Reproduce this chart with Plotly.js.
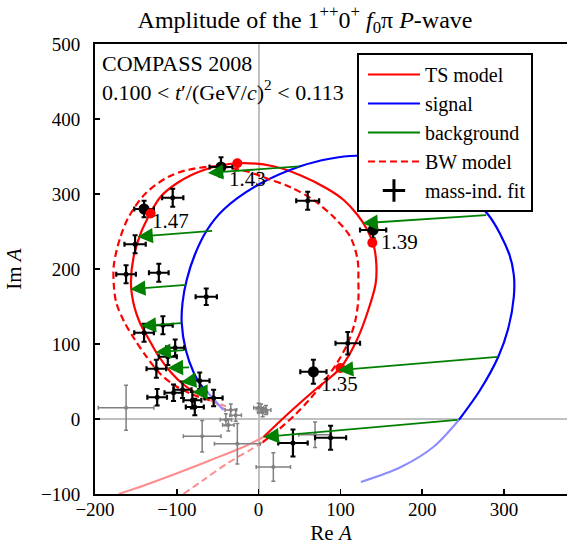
<!DOCTYPE html>
<html>
<head>
<meta charset="utf-8">
<script src="https://cdn.plot.ly/plotly-3.0.1.min.js"></script>
<style>html,body{margin:0;padding:0;overflow:hidden;background:#fff;}</style>
</head>
<body>
<div id="chart" style="width:567px;height:546px;"></div>
<script>
// ---- TS model (solid red): light = outside fit range ----
const tsLoRe = [-171, -141, -99, -59, -18, 6];
const tsLoIm = [-100, -89, -72, -55, -37, -24];
const tsRe = [6, 37, 68, 100, 120, 134, 143, 144, 141, 133, 121, 104, 84, 51, 18, -26, -67, -99, -120, -132, -144, -153, -156, -152, -145, -134, -123, -107, -92, -77];
const tsIm = [-24, 8, 38, 68, 105, 145, 180, 205, 230, 252, 272, 292, 307, 325, 337, 341, 332, 315, 296, 275, 248, 215, 179, 150, 128, 106, 85, 62, 46, 35];
const tsHiRe = [-77, -59, -40];
const tsHiIm = [35, 25, 12];

// ---- BW model (dashed red) ----
const bwLoRe = [-92, -67, -38, -10, 5];
const bwLoIm = [-100, -81, -59, -41, -31];
const bwRe = [5, 18, 43, 63, 80, 96, 109, 118, 122, 122, 121, 112, 92, 67, 39, 12, -14, -50, -87, -110, -138, -159, -170, -177, -177, -174, -164, -152, -137, -120, -100, -77, -59];
const bwIm = [-31, -20, 4, 27, 50, 75, 101, 130, 160, 181, 212, 243, 269, 292, 309, 320, 330, 337, 332, 323, 301, 269, 239, 205, 179, 155, 129, 107, 83, 60, 43, 31, 25];
const bwHiRe = [-59, -40];
const bwHiIm = [25, 17];

// ---- signal (blue) ----
const sgLoRe = [125, 174, 214, 245];
const sgLoIm = [-84, -64, -37, -1];
const sgRe = [245, 271, 293, 305, 312, 312, 306, 281, 247, 198, 155, 119, 87, 51, -1, -43, -63, -78, -88, -93, -94, -89, -79, -71, -62];
const sgIm = [-1, 39, 83, 120, 163, 192, 221, 272, 305, 332, 348, 351, 347, 337, 312, 279, 252, 219, 185, 155, 128, 92, 61, 46, 35];
const sgHiRe = [-62, -43];
const sgHiIm = [35, 12];

// ---- background arrows (tail on signal, head on TS model) ----
const bgTailRe = [245, 294, 280, 51, -55, -87, -93, -89, -83, -75, -62];
const bgTailIm = [-1, 83, 272, 337, 251, 179, 128, 92, 69, 52, 36];
const bgHeadRe = [6, 97, 127, -62, -148, -157, -144, -126, -111, -95, -81];
const bgHeadIm = [-24, 65, 261, 328, 243, 173, 124, 89, 68, 49, 36];

// ---- mass-independent fit points (black, in fit range) ----
const fitRe = [-46, -105, -140, -151, -162, -122, -64, 60, 140, 109, 67, -117, -140, -102, -111, -125, -72, -124, -104, -93, -81, -78, -55, 42, 88];
const fitIm = [336, 295, 280, 233, 193, 195, 163, 291, 252, 101, 63, 125, 115, 95, 83, 67, 51, 29, 35, 39, 25, 16, 28, -32, -25];
const fitErrRe = [14, 13, 12, 13, 12, 12, 13, 14, 16, 15, 16, 12, 12, 11, 11, 12, 12, 12, 11, 11, 11, 11, 11, 18, 19];
const fitErrIm = [13, 12, 11, 12, 12, 12, 11, 12, 11, 15, 16, 12, 12, 11, 11, 12, 11, 11, 11, 11, 11, 11, 11, 18, 16];

// ---- mass-independent fit points outside fit range (gray) ----
const outRe = [-162, -69, -26, 18, 69, -40, -34, -37, -28, 0, 9, 5, 3];
const outIm = [15, -23, -33, -64, -21, -1, 12, -8, 5, 15, 12, 9, 14];
const outErrRe = [34, 23, 28, 21, 20, 7, 7, 7, 7, 6, 6, 6, 6];
const outErrIm = [30, 21, 27, 19, 17, 8, 8, 8, 8, 6, 6, 6, 6];

// ---- marked masses ----
const massLabels = ["1.35", "1.39", "1.43", "1.47"];
const massFitRe = [67, 140, -46, -140];
const massFitIm = [63, 252, 336, 280];
const massTsRe = [100, 139, -26, -132];
const massTsIm = [68, 235, 341, 274];

const FONT = "Liberation Serif, DejaVu Serif, serif";
const RED = "#ff0000", LRED = "#ff8c8c", BLUE = "#0000ff", LBLUE = "#8c8cff", GREEN = "#008000";
const SM = 0.9;

const traces = [
  {x: tsLoRe, y: tsLoIm, mode: "lines", line: {color: LRED, width: 2, shape: "spline", smoothing: SM}, showlegend: false},
  {x: tsHiRe, y: tsHiIm, mode: "lines", line: {color: LRED, width: 2, shape: "spline", smoothing: SM}, showlegend: false},
  {x: bwLoRe, y: bwLoIm, mode: "lines", line: {color: LRED, width: 2, dash: "7px,4px", shape: "spline", smoothing: SM}, showlegend: false},
  {x: bwHiRe, y: bwHiIm, mode: "lines", line: {color: LRED, width: 2, dash: "7px,4px", shape: "spline", smoothing: SM}, showlegend: false},
  {x: sgLoRe, y: sgLoIm, mode: "lines", line: {color: LBLUE, width: 2, shape: "spline", smoothing: SM}, showlegend: false},
  {x: sgHiRe, y: sgHiIm, mode: "lines", line: {color: LBLUE, width: 2, shape: "spline", smoothing: SM}, showlegend: false},
  {x: outRe, y: outIm, mode: "markers", marker: {color: "#808080", size: 4},
   error_x: {type: "data", array: outErrRe, color: "#808080", thickness: 1.5, width: 2},
   error_y: {type: "data", array: outErrIm, color: "#808080", thickness: 1.5, width: 2},
   showlegend: false},
  {x: tsRe, y: tsIm, mode: "lines", name: "TS model", legendgroup: "a", line: {color: RED, width: 2.2, shape: "spline", smoothing: SM}},
  {x: sgRe, y: sgIm, mode: "lines", name: "signal", legendgroup: "b", line: {color: BLUE, width: 2.2, shape: "spline", smoothing: SM}},
  {x: [null], y: [null], mode: "lines", name: "background", legendgroup: "c", line: {color: GREEN, width: 2.2}},
  {x: bwRe, y: bwIm, mode: "lines", name: "BW model", legendgroup: "d", line: {color: RED, width: 2.2, dash: "7px,4px", shape: "spline", smoothing: SM}},
  {x: fitRe, y: fitIm, mode: "markers", marker: {color: "#000", size: 5},
   error_x: {type: "data", array: fitErrRe, color: "#000", thickness: 2.2, width: 2.5},
   error_y: {type: "data", array: fitErrIm, color: "#000", thickness: 2.2, width: 2.5},
   showlegend: false, legendgroup: "e"},
  {x: [null], y: [null], mode: "markers", name: "mass-ind. fit", legendgroup: "e",
   marker: {symbol: "cross-thin", size: 16, color: "#000", line: {color: "#000", width: 3}}},
  {x: massFitRe, y: massFitIm, mode: "markers", marker: {color: "#000", size: 11}, showlegend: false},
  {x: massTsRe, y: massTsIm, mode: "markers", marker: {color: RED, size: 10}, showlegend: false}
];

const annotations = [];
for (let i = 0; i < bgTailRe.length; i++) {
  annotations.push({x: bgHeadRe[i], y: bgHeadIm[i], ax: bgTailRe[i], ay: bgTailIm[i],
    xref: "x", yref: "y", axref: "x", ayref: "y", text: "", showarrow: true,
    arrowhead: 2, arrowsize: 1.7, arrowwidth: 1.8, arrowcolor: GREEN, standoff: 0, startstandoff: 0});
}
for (let i = 0; i < massLabels.length; i++) {
  annotations.push({x: massFitRe[i], y: massFitIm[i], xref: "x", yref: "y", text: massLabels[i],
    showarrow: false, xanchor: "left", yanchor: "middle", xshift: 6, yshift: -12,
    font: {family: FONT, size: 21, color: "#000"}});
}
annotations.push({xref: "paper", yref: "paper", x: 0.01, y: 0.99, xanchor: "left", yanchor: "top",
  align: "left", showarrow: false, font: {family: FONT, size: 22, color: "#000"},
  text: "COMPASS 2008<br>0.100 &lt; <i>t</i>′/(GeV/<i>c</i>)<sup>2</sup> &lt; 0.113"});

const layout = {
  width: 567, height: 546,
  margin: {l: 95, r: 0, t: 44, b: 52},
  paper_bgcolor: "#fff", plot_bgcolor: "#fff",
  font: {family: FONT, size: 19, color: "#000"},
  title: {text: "Amplitude of the 1<sup>++</sup>0<sup>+</sup> <i>f</i><sub>0</sub>π <i>P</i>-wave",
    font: {family: FONT, size: 24, color: "#000"}, xref: "paper", x: 0.445, xanchor: "center",
    yref: "container", y: 0.965, yanchor: "middle"},
  xaxis: {range: [-200, 377], tickvals: [-200, -100, 0, 100, 200, 300],
    ticks: "inside", ticklen: 5, tickwidth: 1.5, tickcolor: "#000", ticklabelstandoff: -3,
    showline: true, linecolor: "#000", linewidth: 2, mirror: true,
    showgrid: false, zeroline: true, zerolinecolor: "#c0c0c0", zerolinewidth: 2,
    tickfont: {family: FONT, size: 19}, title: {text: "Re <i>A</i>", font: {family: FONT, size: 21}, standoff: 7}},
  yaxis: {range: [-100, 500], tickvals: [-100, 0, 100, 200, 300, 400, 500],
    ticks: "inside", ticklen: 5, tickwidth: 1.5, tickcolor: "#000", ticklabelstandoff: 9,
    showline: true, linecolor: "#000", linewidth: 2, mirror: false,
    showgrid: false, zeroline: true, zerolinecolor: "#c0c0c0", zerolinewidth: 2,
    tickfont: {family: FONT, size: 19}, title: {text: "Im <i>A</i>", font: {family: FONT, size: 21}, standoff: 14}},
  legend: {x: 0.555, y: 0.98, xanchor: "left", yanchor: "top", bgcolor: "#fff",
    bordercolor: "#000", borderwidth: 2, font: {family: FONT, size: 20, color: "#000"},
    traceorder: "grouped", tracegroupgap: 0, itemwidth: 52, indentation: 4},
  annotations: annotations,
  showlegend: true
};

Plotly.newPlot("chart", traces, layout, {displayModeBar: false, staticPlot: true});
</script>
</body>
</html>
